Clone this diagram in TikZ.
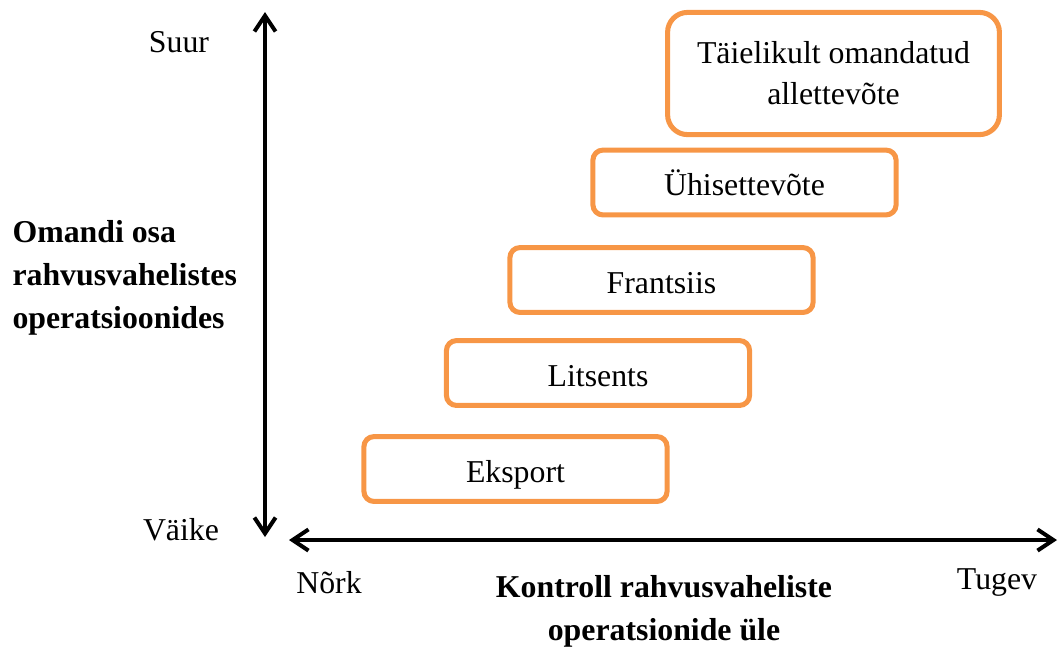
\documentclass[tikz,border=0pt]{standalone}
\usepackage{fontspec}
\setmainfont{Liberation Serif}
\usetikzlibrary{arrows.meta}
\definecolor{boxorange}{RGB}{247,150,70}
\tikzset{
  framed/.style={draw=boxorange, line width=1.9pt, font=\fontsize{12}{15.5}\selectfont},
  box/.style={framed, rounded corners=3.8pt, minimum width=4.02cm,
    minimum height=0.86cm, text height=11pt, text depth=1pt},
  bigbox/.style={framed, rounded corners=7.5pt, minimum width=4.40cm,
    minimum height=1.62cm, align=center},
  lbl/.style={font=\fontsize{12}{15.5}\selectfont, inner sep=0pt},
  title/.style={font=\fontsize{12}{16.3}\selectfont\bfseries, inner sep=0pt},
  axis/.style={line width=1.5pt,
    {Straight Barb[length=6pt,width=8pt]}-{Straight Barb[length=6pt,width=8pt]}}
}
\begin{document}
\begin{tikzpicture}[x=0.01326cm, y=-0.01326cm]
      \useasboundingbox (0,0) rectangle (1059,646);
      \draw
        (515.5,469) node[box] (eksport){Eksport}
        (598,373) node[box] (litsents){Litsents}
        (661.5,280) node[box] (frantsiis){Frantsiis}
        (744.5,182.5) node[box] (yhis){Ühisettevõte}
        (833.5,73.5) node[bigbox] (allett){Täielikult omandatud\\allettevõte};
      \draw
        (179,42) node[lbl] (suur){Suur}
        (181,530) node[lbl] (vaike){Väike}
        (329,583) node[lbl] (nork){Nõrk}
        (997,583) node[lbl] (tugev){Tugev}
        (12,278) node[title, anchor=west, align=left] (omand){Omandi osa\\rahvusvahelistes\\operatsioonides}
        (664,611) node[title, align=center] (kontroll){Kontroll rahvusvaheliste\\operatsionide üle};
      \coordinate (ytop) at (265,12);
      \coordinate (ybot) at (265,537);
      \coordinate (xleft) at (289,540);
      \coordinate (xright) at (1057,540);
      \begin{scope}[axis]
        \draw (ybot) to (ytop);
        \draw (xleft) to (xright);
      \end{scope}
    \end{tikzpicture}
\end{document}
